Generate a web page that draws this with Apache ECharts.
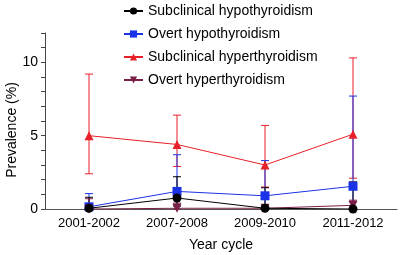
<!DOCTYPE html>
<html><head><meta charset="utf-8">
<script src="https://cdn.jsdelivr.net/npm/echarts@6/dist/echarts.min.js"></script>
<style>html,body{margin:0;padding:0;background:#fff}#c{width:400px;height:255px}</style>
</head><body><div id="c"></div>
<script>
var categories = ['2001-2002','2007-2008','2009-2010','2011-2012'];
var seriesNames = ['Subclinical hypothyroidism','Overt hypothyroidism','Subclinical hyperthyroidism','Overt hyperthyroidism'];
var subHypo = [0.05, 0.75, 0.05, 0.0];
var subHypoLow = [0, 0.2, 0, 0];
var subHypoHigh = [0.8, 2.2, 1.45, 1.85];
var overtHypo = [0.15, 1.2, 0.9, 1.55];
var overtHypoLow = [0, 0.3, 0.3, 0.5];
var overtHypoHigh = [1.05, 3.7, 3.3, 7.7];
var subHyper = [5.0, 4.4, 3.0, 5.1];
var subHyperLow = [2.4, 2.9, 1.5, 2.1];
var subHyperHigh = [9.2, 6.4, 5.7, 10.3];
var overtHyper = [0.0, 0.05, 0.05, 0.25];
var overtHyperLow = [0, 0, 0, 0];
var overtHyperHigh = [0.7, 0.4, 0.2, 0.6];
var yTickLabels = [0, 5, 10];
var yAxisTitle = 'Prevalence (%)';
var xAxisTitle = 'Year cycle';

var colors = ['#000000', '#1a33e6', '#e8202a', '#7a1f47'];
var symbols = ['circle', 'rect', 'triangle', 'path://M0,0 L10,0 L5,9 Z'];
var symSizes = [9, 9, 9, 9];
var vals = [subHypo, overtHypo, subHyper, overtHyper];
var lows = [subHypoLow, overtHypoLow, subHyperLow, overtHyperLow];
var highs = [subHypoHigh, overtHypoHigh, subHyperHigh, overtHyperHigh];
var errZ = [4, 3, 2, 5];
var font = 'Liberation Sans, Arial, sans-serif';

function errRender(color) {
  return function (params, api) {
    var x = api.value(0);
    var hi = api.coord([x, api.value(2)]);
    var lo = api.coord([x, api.value(1)]);
    var w = 4;
    var st = { stroke: color, lineWidth: 1 };
    return { type: 'group', children: [
      { type: 'line', shape: { x1: hi[0], y1: hi[1], x2: lo[0], y2: lo[1] }, style: st },
      { type: 'line', shape: { x1: hi[0]-w, y1: hi[1], x2: hi[0]+w, y2: hi[1] }, style: st },
      { type: 'line', shape: { x1: lo[0]-w, y1: lo[1], x2: lo[0]+w, y2: lo[1] }, style: st }
    ]};
  };
}

var series = [];
for (var k = 0; k < 4; k++) {
  var ed = [];
  for (var i = 0; i < categories.length; i++) ed.push([i, lows[k][i], highs[k][i]]);
  series.push({
    type: 'custom', name: seriesNames[k] + ' err', data: ed, z: errZ[k],
    encode: { x: 0, y: [1, 2] }, renderItem: errRender(colors[k]), silent: true
  });
}
for (var k2 = 0; k2 < 4; k2++) {
  series.push({
    type: 'line', name: seriesNames[k2], data: vals[k2], z: 10 + (k2 === 0 ? 4 : k2),
    symbol: symbols[k2], symbolSize: symSizes[k2], showAllSymbol: true,
    lineStyle: { color: colors[k2], width: 1 }, itemStyle: { color: colors[k2] }
  });
}

var chart = echarts.init(document.getElementById('c'), null, { renderer: 'canvas' });
chart.setOption({
  animation: false,
  textStyle: { fontFamily: font },
  legend: {
    data: seriesNames, orient: 'vertical', left: 118, top: -1,
    itemWidth: 19, itemHeight: 9, itemGap: 9,
    textStyle: { fontSize: 14, color: '#000', fontFamily: font }
  },
  graphic: [{
    type: 'text', x: 12, y: 130, rotation: Math.PI / 2,
    style: { text: yAxisTitle, fontSize: 14, fill: '#000', fontFamily: font,
      align: 'center', verticalAlign: 'middle' }
  }],
  grid: { left: 45, right: 3, top: 33, bottom: 46, containLabel: false, outerBoundsMode: 'none' },
  xAxis: {
    type: 'category', data: categories, boundaryGap: true,
    name: xAxisTitle, nameLocation: 'middle', nameGap: 29,
    nameTextStyle: { fontSize: 14, color: '#000', fontFamily: font },
    axisLine: { lineStyle: { color: '#555', width: 1 } },
    axisTick: { show: false },
    axisLabel: { fontSize: 13, color: '#000', margin: 8, fontFamily: font }
  },
  yAxis: {
    type: 'value', min: 0, max: 12, interval: 1,
    axisLine: { show: true, lineStyle: { color: '#444', width: 1 } },
    axisTick: { show: true, length: 4, lineStyle: { color: '#444' } },
    axisLabel: { fontSize: 14, color: '#000', margin: 7, fontFamily: font,
      formatter: function (v) { return yTickLabels.indexOf(v) >= 0 ? String(v) : ''; } },
    splitLine: { show: false }
  },
  series: series
});
</script></body></html>
